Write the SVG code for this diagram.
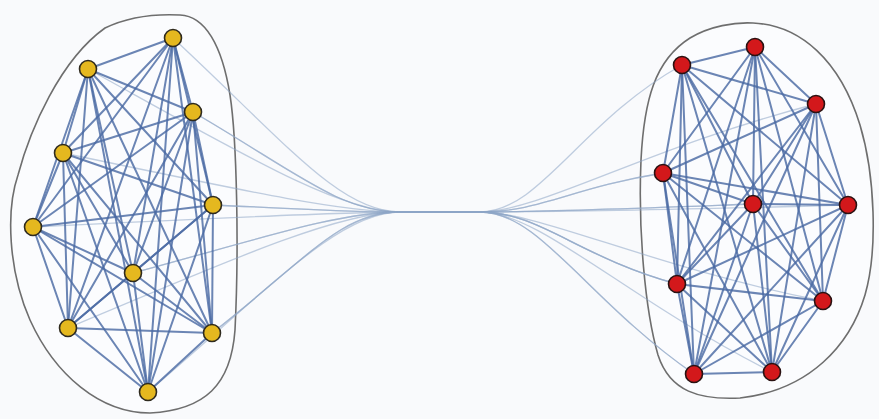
<svg xmlns="http://www.w3.org/2000/svg" width="879" height="419" viewBox="0 0 879 419">
<style>
.bg{fill:#f9fafc}
.hull{fill:#fbfcfe;stroke:#6e6e6e;stroke-width:1.6}
.e{stroke:#4a6aa3;stroke-width:2;stroke-opacity:0.82;stroke-linecap:round}
.b{fill:none;stroke:#8ea6c6;stroke-width:1.3;stroke-opacity:0.55}
.y{fill:#e5b81f;stroke:#2e2a1e;stroke-width:1.6}
.r{fill:#d3181b;stroke:#2a1212;stroke-width:1.6}
</style>
<rect class="bg" x="0" y="0" width="879" height="419"/>
<path id="hull-left" class="hull" d="M 180,15 C 205,16 222,45 230,95 C 237,140 239,250 235,330 C 231,385 205,410 150,413 C 100,413 55,375 30,320 C 8,270 6,210 18,175 C 30,130 60,60 105,28 C 130,16 160,14 180,15 Z"/>
<path id="hull-right" class="hull" d="M 753,23 C 800,25 840,60 860,125 C 875,175 878,250 865,295 C 850,345 810,390 740,398 C 700,400 670,392 658,355 C 645,310 638,230 641,160 C 644,100 655,60 690,38 C 710,26 735,22 753,23 Z"/>
<g id="connectors">
<g id="bundle">
<path class="b" d="M173,38 C286,143 340,212 400,212 L480,212 C540,212 581,121 682,65"/>
<path class="b" d="M193,112 C296,172 340,212 400,212 L480,212 C540,212 571,188 663,173"/>
<path class="b" d="M193,112 C296,172 340,212 400,212 L480,212 C540,212 648,147 816,104"/>
<path class="b" d="M63,153 C231,188 340,212 400,212 L480,212 C540,212 571,188 663,173"/>
<path class="b" d="M88,69 C244,155 340,212 400,212 L480,212 C540,212 616,209 753,204"/>
<path class="b" d="M213,205 C306,209 340,212 400,212 L480,212 C540,212 616,209 753,204"/>
<path class="b" d="M213,205 C306,209 340,212 400,212 L480,212 C540,212 664,210 848,205"/>
<path class="b" d="M33,227 C216,218 340,212 400,212 L480,212 C540,212 578,257 677,284"/>
<path class="b" d="M133,273 C266,237 340,212 400,212 L480,212 C540,212 578,257 677,284"/>
<path class="b" d="M133,273 C266,237 340,212 400,212 L480,212 C540,212 651,267 823,301"/>
<path class="b" d="M212,333 C306,260 340,212 400,212 L480,212 C540,212 587,300 694,374"/>
<path class="b" d="M212,333 C306,260 340,212 400,212 L480,212 C540,212 578,257 677,284"/>
<path class="b" d="M148,392 C274,284 340,212 400,212 L480,212 C540,212 587,300 694,374"/>
<path class="b" d="M68,328 C234,258 340,212 400,212 L480,212 C540,212 626,299 772,372"/>
</g>
<g id="edges-left">
<line class="e" x1="173" y1="38" x2="88" y2="69"/>
<line class="e" x1="173" y1="38" x2="193" y2="112"/>
<line class="e" x1="173" y1="38" x2="63" y2="153"/>
<line class="e" x1="173" y1="38" x2="213" y2="205"/>
<line class="e" x1="173" y1="38" x2="33" y2="227"/>
<line class="e" x1="173" y1="38" x2="133" y2="273"/>
<line class="e" x1="173" y1="38" x2="68" y2="328"/>
<line class="e" x1="173" y1="38" x2="212" y2="333"/>
<line class="e" x1="173" y1="38" x2="148" y2="392"/>
<line class="e" x1="88" y1="69" x2="193" y2="112"/>
<line class="e" x1="88" y1="69" x2="63" y2="153"/>
<line class="e" x1="88" y1="69" x2="213" y2="205"/>
<line class="e" x1="88" y1="69" x2="33" y2="227"/>
<line class="e" x1="88" y1="69" x2="133" y2="273"/>
<line class="e" x1="88" y1="69" x2="68" y2="328"/>
<line class="e" x1="88" y1="69" x2="212" y2="333"/>
<line class="e" x1="88" y1="69" x2="148" y2="392"/>
<line class="e" x1="193" y1="112" x2="63" y2="153"/>
<line class="e" x1="193" y1="112" x2="213" y2="205"/>
<line class="e" x1="193" y1="112" x2="33" y2="227"/>
<line class="e" x1="193" y1="112" x2="133" y2="273"/>
<line class="e" x1="193" y1="112" x2="68" y2="328"/>
<line class="e" x1="193" y1="112" x2="212" y2="333"/>
<line class="e" x1="193" y1="112" x2="148" y2="392"/>
<line class="e" x1="63" y1="153" x2="213" y2="205"/>
<line class="e" x1="63" y1="153" x2="33" y2="227"/>
<line class="e" x1="63" y1="153" x2="133" y2="273"/>
<line class="e" x1="63" y1="153" x2="68" y2="328"/>
<line class="e" x1="63" y1="153" x2="212" y2="333"/>
<line class="e" x1="63" y1="153" x2="148" y2="392"/>
<line class="e" x1="213" y1="205" x2="33" y2="227"/>
<line class="e" x1="213" y1="205" x2="133" y2="273"/>
<line class="e" x1="213" y1="205" x2="68" y2="328"/>
<line class="e" x1="213" y1="205" x2="212" y2="333"/>
<line class="e" x1="213" y1="205" x2="148" y2="392"/>
<line class="e" x1="33" y1="227" x2="133" y2="273"/>
<line class="e" x1="33" y1="227" x2="68" y2="328"/>
<line class="e" x1="33" y1="227" x2="212" y2="333"/>
<line class="e" x1="33" y1="227" x2="148" y2="392"/>
<line class="e" x1="133" y1="273" x2="68" y2="328"/>
<line class="e" x1="133" y1="273" x2="212" y2="333"/>
<line class="e" x1="133" y1="273" x2="148" y2="392"/>
<line class="e" x1="68" y1="328" x2="212" y2="333"/>
<line class="e" x1="68" y1="328" x2="148" y2="392"/>
<line class="e" x1="212" y1="333" x2="148" y2="392"/>
</g>
<g id="edges-right">
<line class="e" x1="755" y1="47" x2="682" y2="65"/>
<line class="e" x1="755" y1="47" x2="816" y2="104"/>
<line class="e" x1="755" y1="47" x2="663" y2="173"/>
<line class="e" x1="755" y1="47" x2="753" y2="204"/>
<line class="e" x1="755" y1="47" x2="848" y2="205"/>
<line class="e" x1="755" y1="47" x2="677" y2="284"/>
<line class="e" x1="755" y1="47" x2="823" y2="301"/>
<line class="e" x1="755" y1="47" x2="694" y2="374"/>
<line class="e" x1="755" y1="47" x2="772" y2="372"/>
<line class="e" x1="682" y1="65" x2="816" y2="104"/>
<line class="e" x1="682" y1="65" x2="663" y2="173"/>
<line class="e" x1="682" y1="65" x2="753" y2="204"/>
<line class="e" x1="682" y1="65" x2="848" y2="205"/>
<line class="e" x1="682" y1="65" x2="677" y2="284"/>
<line class="e" x1="682" y1="65" x2="823" y2="301"/>
<line class="e" x1="682" y1="65" x2="694" y2="374"/>
<line class="e" x1="682" y1="65" x2="772" y2="372"/>
<line class="e" x1="816" y1="104" x2="663" y2="173"/>
<line class="e" x1="816" y1="104" x2="753" y2="204"/>
<line class="e" x1="816" y1="104" x2="848" y2="205"/>
<line class="e" x1="816" y1="104" x2="677" y2="284"/>
<line class="e" x1="816" y1="104" x2="823" y2="301"/>
<line class="e" x1="816" y1="104" x2="694" y2="374"/>
<line class="e" x1="816" y1="104" x2="772" y2="372"/>
<line class="e" x1="663" y1="173" x2="753" y2="204"/>
<line class="e" x1="663" y1="173" x2="848" y2="205"/>
<line class="e" x1="663" y1="173" x2="677" y2="284"/>
<line class="e" x1="663" y1="173" x2="823" y2="301"/>
<line class="e" x1="663" y1="173" x2="694" y2="374"/>
<line class="e" x1="663" y1="173" x2="772" y2="372"/>
<line class="e" x1="753" y1="204" x2="848" y2="205"/>
<line class="e" x1="753" y1="204" x2="677" y2="284"/>
<line class="e" x1="753" y1="204" x2="823" y2="301"/>
<line class="e" x1="753" y1="204" x2="694" y2="374"/>
<line class="e" x1="753" y1="204" x2="772" y2="372"/>
<line class="e" x1="848" y1="205" x2="677" y2="284"/>
<line class="e" x1="848" y1="205" x2="823" y2="301"/>
<line class="e" x1="848" y1="205" x2="694" y2="374"/>
<line class="e" x1="848" y1="205" x2="772" y2="372"/>
<line class="e" x1="677" y1="284" x2="823" y2="301"/>
<line class="e" x1="677" y1="284" x2="694" y2="374"/>
<line class="e" x1="677" y1="284" x2="772" y2="372"/>
<line class="e" x1="823" y1="301" x2="694" y2="374"/>
<line class="e" x1="823" y1="301" x2="772" y2="372"/>
<line class="e" x1="694" y1="374" x2="772" y2="372"/>
</g>
</g>
<g id="nodes-left">
<g id="L1"><circle class="y" cx="173" cy="38" r="8.5"/></g>
<g id="L2"><circle class="y" cx="88" cy="69" r="8.5"/></g>
<g id="L3"><circle class="y" cx="193" cy="112" r="8.5"/></g>
<g id="L4"><circle class="y" cx="63" cy="153" r="8.5"/></g>
<g id="L5"><circle class="y" cx="213" cy="205" r="8.5"/></g>
<g id="L6"><circle class="y" cx="33" cy="227" r="8.5"/></g>
<g id="L7"><circle class="y" cx="133" cy="273" r="8.5"/></g>
<g id="L8"><circle class="y" cx="68" cy="328" r="8.5"/></g>
<g id="L9"><circle class="y" cx="212" cy="333" r="8.5"/></g>
<g id="L10"><circle class="y" cx="148" cy="392" r="8.5"/></g>
</g>
<g id="nodes-right">
<g id="R1"><circle class="r" cx="755" cy="47" r="8.5"/></g>
<g id="R2"><circle class="r" cx="682" cy="65" r="8.5"/></g>
<g id="R3"><circle class="r" cx="816" cy="104" r="8.5"/></g>
<g id="R4"><circle class="r" cx="663" cy="173" r="8.5"/></g>
<g id="R5"><circle class="r" cx="753" cy="204" r="8.5"/></g>
<g id="R6"><circle class="r" cx="848" cy="205" r="8.5"/></g>
<g id="R7"><circle class="r" cx="677" cy="284" r="8.5"/></g>
<g id="R8"><circle class="r" cx="823" cy="301" r="8.5"/></g>
<g id="R9"><circle class="r" cx="694" cy="374" r="8.5"/></g>
<g id="R10"><circle class="r" cx="772" cy="372" r="8.5"/></g>
</g>
</svg>
